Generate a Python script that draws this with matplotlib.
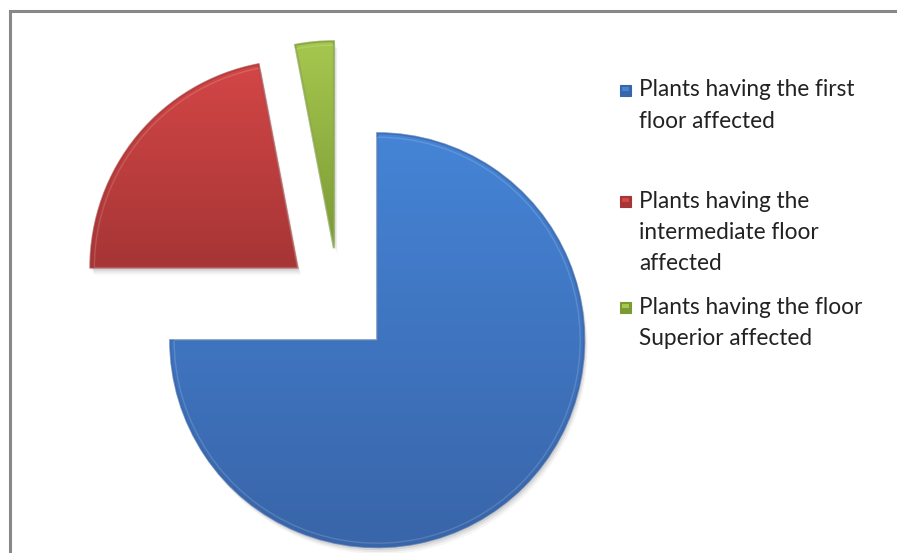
import numpy as np
import matplotlib
matplotlib.use("Agg")
from matplotlib import pyplot as plt
from matplotlib.colors import LinearSegmentedColormap
from matplotlib.patches import Rectangle, Wedge

# share of plants by affected floor (percent)
labels = ["Plants having the first\nfloor affected",
          "Plants having the\nintermediate floor\naffected",
          "Plants having the floor\nSuperior affected"]
values = [75, 22, 3]
light = ["#4584d6", "#d34646", "#a6c74e"]
dark = ["#3965a9", "#a63535", "#7b9a36"]

W, H = 897, 553
fig = plt.figure(figsize=(W / 100, H / 100), dpi=100)
ax = fig.add_axes([0, 0, 1, 1])

R = 207
# explode is given in data units here (pixels), same as the radius
wedges, _ = ax.pie(values, startangle=90, counterclock=False, radius=R,
                   center=(339, 251), explode=[54] * 3,
                   wedgeprops=dict(lw=0), frame=True)
ax.set_xlim(0, W)
ax.set_ylim(0, H)
ax.set_aspect("auto")
ax.axis("off")

# chart frame (right and bottom edges fall outside the image)
ax.add_patch(Rectangle((9.5, -20), W + 20, H - 10.5 + 20, fill=False,
                       ec="#888888", lw=2.2, zorder=0))

for w, c0, c1 in zip(wedges, light, dark):
    cx, cy = w.center
    # soft drop shadow
    for k, a in [(7, 0.04), (5, 0.06), (3, 0.08)]:
        sh = Wedge((cx + k * 0.5, cy - k), w.r, w.theta1, w.theta2,
                   fc="#000000", alpha=a, lw=0, zorder=1)
        ax.add_patch(sh)
    w.set_zorder(2)
    w.set_facecolor(c1)
    # vertical gradient, lighter at the top
    cmap = LinearSegmentedColormap.from_list("g", [c0, c1])
    bb = w.get_path().get_extents()
    grad = np.linspace(0, 1, 256).reshape(-1, 1)
    im = ax.imshow(grad, cmap=cmap, aspect="auto", zorder=3,
                   extent=[bb.x0, bb.x1, bb.y0, bb.y1], origin="upper")
    im.set_clip_path(w)
    # bevel: darker outer rim, light inner highlight
    rim = Wedge((cx, cy), w.r, w.theta1, w.theta2, fill=False,
                ec=c1, lw=1.5, zorder=4, alpha=0.7)
    ax.add_patch(rim)
    hi = Wedge((cx, cy), w.r - 4, w.theta1, w.theta2, fill=False,
               ec="white", lw=1.0, zorder=4, alpha=0.15)
    ax.add_patch(hi)

# legend on the right
font = dict(family=["Lato", "DejaVu Sans"], fontsize=16.3, color="#222222")
legend_y = [463, 352, 246]
line_h = 31.5
for lab, y, c0, c1 in zip(labels, legend_y, light, dark):
    ax.add_patch(Rectangle((620, y - 5.5), 11, 11, fc=c1, ec=c1, lw=0.8,
                           zorder=5))
    ax.add_patch(Rectangle((622, y - 1), 7, 4, fc=c0, lw=0, zorder=6))
    for i, line in enumerate(lab.split("\n")):
        ax.text(639, y - i * line_h, line, va="center", ha="left", **font)

fig.savefig("out.png", dpi=100, facecolor="white")
